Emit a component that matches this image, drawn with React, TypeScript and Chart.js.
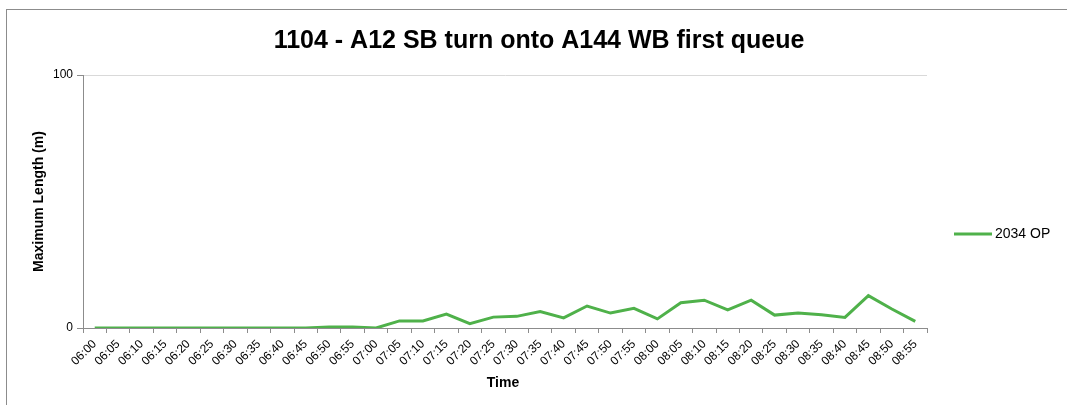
import React, { useEffect, useRef } from "react";
import { Chart, registerables } from "chart.js";

Chart.register(...registerables);

const TITLE = "1104 - A12 SB turn onto A144 WB first queue";
const Y_TITLE = "Maximum Length (m)";
const X_TITLE = "Time";
const SERIES_NAME = "2034 OP";

const timeLabels = [
  "06:00", "06:05", "06:10", "06:15", "06:20", "06:25", "06:30", "06:35", "06:40", "06:45", "06:50", "06:55",
  "07:00", "07:05", "07:10", "07:15", "07:20", "07:25", "07:30", "07:35", "07:40", "07:45", "07:50", "07:55",
  "08:00", "08:05", "08:10", "08:15", "08:20", "08:25", "08:30", "08:35", "08:40", "08:45", "08:50", "08:55",
];

const op2034 = [
  0, 0, 0, 0, 0, 0, 0, 0, 0, 0, 0.4, 0.4,
  0, 2.8, 2.8, 5.5, 1.7, 4.3, 4.6, 6.5, 4.0, 8.7, 5.9, 7.8,
  3.6, 10.0, 11.0, 7.2, 11.0, 5.1, 5.9, 5.2, 4.2, 12.8, 7.5, 2.6,
];

const yTicks = [0, 100];

const GREEN = "#4FB14A";
const FONT = "'Liberation Sans', Arial, sans-serif";

export default function App() {
  const ref = useRef<HTMLCanvasElement | null>(null);

  useEffect(() => {
    document.body.style.margin = "0";
    const canvas = ref.current;
    if (!canvas) return;

    const decor = {
      id: "decor",
      beforeDraw(chart: any) {
        const ctx = chart.ctx;
        ctx.save();
        ctx.fillStyle = "#ffffff";
        ctx.fillRect(0, 0, chart.width, chart.height);
        ctx.strokeStyle = "#8c8c8c";
        ctx.lineWidth = 1;
        ctx.strokeRect(6.5, 9.5, 1200, 600);
        ctx.restore();
      },
      afterDraw(chart: any) {
        const ctx = chart.ctx;
        const area = chart.chartArea;
        ctx.save();
        ctx.fillStyle = "#000";
        ctx.textBaseline = "middle";
        ctx.textAlign = "center";
        ctx.font = `bold 25px ${FONT}`;
        ctx.fillText(TITLE, 539, 41);

        ctx.font = `bold 14px ${FONT}`;
        ctx.fillText(X_TITLE, 503, 383);

        ctx.save();
        ctx.translate(39, (area.top + area.bottom) / 2);
        ctx.rotate(-Math.PI / 2);
        ctx.fillText(Y_TITLE, 0, 0);
        ctx.restore();

        // legend
        ctx.strokeStyle = GREEN;
        ctx.lineWidth = 3;
        ctx.beginPath();
        ctx.moveTo(954, 234);
        ctx.lineTo(992, 234);
        ctx.stroke();
        ctx.textAlign = "left";
        ctx.font = `14px ${FONT}`;
        ctx.fillText(SERIES_NAME, 995, 234);
        ctx.restore();
      },
    };

    const chart = new Chart(canvas, {
      type: "line",
      data: {
        labels: timeLabels,
        datasets: [
          {
            label: SERIES_NAME,
            data: op2034,
            borderColor: GREEN,
            backgroundColor: GREEN,
            borderWidth: 3,
            pointRadius: 0,
            tension: 0,
          },
        ],
      },
      options: {
        animation: false,
        responsive: false,
        maintainAspectRatio: false,
        layout: { padding: { left: 0, right: 140, top: 75, bottom: 0 } },
        plugins: {
          legend: { display: false },
          title: { display: false },
          tooltip: { enabled: false },
        },
        scales: {
          x: {
            type: "category",
            offset: true,
            grid: {
              display: true,
              drawOnChartArea: false,
              drawTicks: true,
              tickLength: 5,
              color: "#8c8c8c",
              offset: true,
            },
            border: { color: "#8c8c8c", width: 1 },
            ticks: {
              autoSkip: false,
              maxRotation: 45,
              minRotation: 45,
              padding: 4,
              color: "#000",
              font: { family: FONT, size: 12 },
            },
            afterFit(scale: any) {
              scale.height = 405 - 328;
            },
          },
          y: {
            min: 0,
            max: 100,
            afterBuildTicks(scale: any) {
              scale.ticks = yTicks.map((v) => ({ value: v }));
            },
            grid: {
              color: (c: any) => (c.tick && c.tick.value === 0 ? "rgba(0,0,0,0)" : "#d9d9d9"),
              tickColor: "#8c8c8c",
              tickLength: 6,
            },
            border: { color: "#8c8c8c", width: 1 },
            ticks: {
              padding: 4,
              color: "#000",
              font: { family: FONT, size: 12 },
            },
            afterFit(scale: any) {
              scale.width = 83;
            },
          },
        },
      },
      plugins: [decor],
    });

    return () => chart.destroy();
  }, []);

  return (
    <div style={{ width: 1067, height: 405, position: "relative" }}>
      <canvas ref={ref} width={1067} height={405} style={{ display: "block" }} />
    </div>
  );
}
